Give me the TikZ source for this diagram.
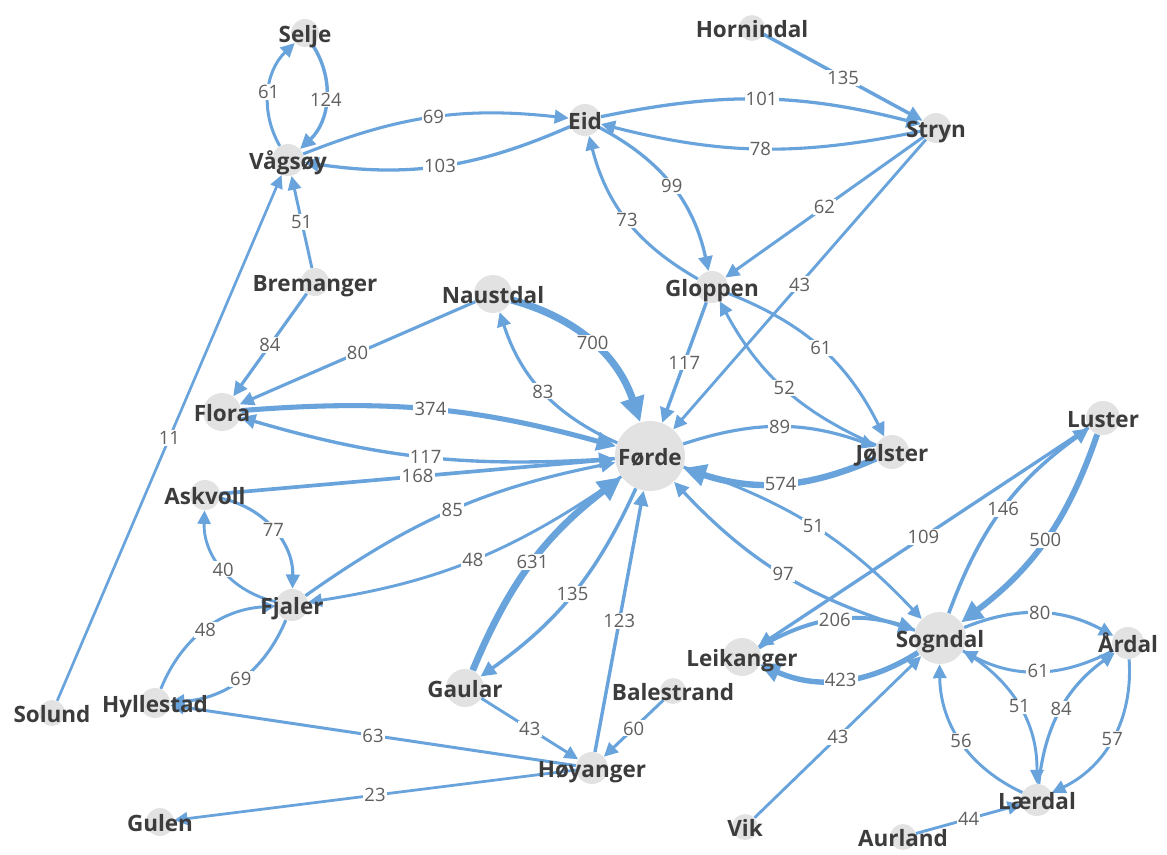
\documentclass[tikz,border=0pt]{standalone}
\usepackage{fontspec}
\usetikzlibrary{arrows.meta}
\newfontfamily\townfont{Open Sans}

\begin{document}
\begin{tikzpicture}[x=0.02cm, y=-0.02cm,
  town/.style={circle, fill=towngray, inner sep=0pt, minimum size={#1*0.04cm}},
  townname/.style={font=\townfont\bfseries\fontsize{12.8}{15}\selectfont, text=namegray,
    text height=0.72em, text depth=0pt, inner sep=0pt, yshift=-0.06cm},
  road/.style={draw=roadblue, line width={(2.6+#1/150)*0.567pt},
    -{Triangle[length=3.5pt 2.6, width=3.5pt 2.4]}},
  wt/.style={font=\townfont\fontsize{10.5}{12}\selectfont, text=wtgray, fill=white, inner sep=0.7pt}]

  % Define colors
  \definecolor{roadblue}{RGB}{104,163,220}
  \definecolor{towngray}{RGB}{226,226,226}
  \definecolor{namegray}{RGB}{60,60,60}
  \definecolor{wtgray}{RGB}{95,95,95}

  \useasboundingbox (0,0) rectangle (1167,855);

  % Draw the municipalities
  \node[town=14] (selje) at (305,33) {};
  \node[town=16] (vagsoy) at (288,160) {};
  \node[town=14] (bremanger) at (315,282) {};
  \node[town=13] (hornindal) at (752,28) {};
  \node[town=16] (eid) at (585,120) {};
  \node[town=15] (stryn) at (936,128) {};
  \node[town=16] (gloppen) at (712,287) {};
  \node[town=19] (naustdal) at (493,294) {};
  \node[town=19] (flora) at (222,412) {};
  \node[town=35] (forde) at (650,456) {};
  \node[town=17] (jolster) at (892,452) {};
  \node[town=17] (luster) at (1103,418) {};
  \node[town=15] (askvoll) at (205,495) {};
  \node[town=16] (fjaler) at (292,605) {};
  \node[town=15] (hyllestad) at (155,703) {};
  \node[town=13] (solund) at (52,713) {};
  \node[town=14] (gulen) at (160,822) {};
  \node[town=19] (gaular) at (465,688) {};
  \node[town=13] (balestrand) at (673,691) {};
  \node[town=16] (hoyanger) at (592,768) {};
  \node[town=19] (leikanger) at (742,657) {};
  \node[town=13] (vik) at (745,827) {};
  \node[town=26] (sogndal) at (940,638) {};
  \node[town=16] (ardal) at (1128,643) {};
  \node[town=16] (laerdal) at (1037,800) {};
  \node[town=13] (aurland) at (903,837) {};

  % Nordfjord
  \draw[road=61] (vagsoy) to[bend left=38] node[wt]{61} (selje);
  \draw[road=124] (selje) to[bend left=40] node[wt]{124} (vagsoy);
  \draw[road=51] (bremanger) -- node[wt]{51} (vagsoy);
  \draw[road=11] (solund) -- node[wt]{11} (vagsoy);
  \draw[road=69] (vagsoy) to[bend left=14] node[wt]{69} (eid);
  \draw[road=103] (eid) to[bend left=16] node[wt]{103} (vagsoy);
  \draw[road=101] (eid) to[bend left=13] node[wt]{101} (stryn);
  \draw[road=78] (stryn) to[bend left=13] node[wt]{78} (eid);
  \draw[road=135] (hornindal) -- node[wt]{135} (stryn);
  \draw[road=99] (eid) to[bend left=25] node[wt]{99} (gloppen);
  \draw[road=73] (gloppen) to[bend left=23] node[wt]{73} (eid);
  \draw[road=62] (stryn) -- node[wt]{62} (gloppen);
  \draw[road=43] (stryn) -- node[wt]{43} (forde);

  % Sunnfjord
  \draw[road=84] (bremanger) -- node[wt]{84} (flora);
  \draw[road=80] (naustdal) -- node[wt]{80} (flora);
  \draw[road=374] (flora) to[bend left=10] node[wt]{374} (forde);
  \draw[road=117] (forde) to[bend left=10] node[wt]{117} (flora);
  \draw[road=168] (askvoll) -- node[wt]{168} (forde);
  \draw[road=700] (naustdal) to[bend left=28] node[wt]{700} (forde);
  \draw[road=83] (forde) to[bend left=24] node[wt]{83} (naustdal);
  \draw[road=117] (gloppen) -- node[wt]{117} (forde);
  \draw[road=61] (gloppen) to[bend left=21] node[wt]{61} (jolster);
  \draw[road=52] (jolster) to[bend left=19] node[wt]{52} (gloppen);
  \draw[road=89] (forde) to[bend left=19] node[wt]{89} (jolster);
  \draw[road=574] (jolster) to[bend left=21] node[wt]{574} (forde);
  \draw[road=77] (askvoll) to[bend left=40] node[wt]{77} (fjaler);
  \draw[road=40] (fjaler) to[bend left=40] node[wt]{40} (askvoll);
  \draw[road=85] (fjaler) to[bend left=12] node[wt]{85} (forde);
  \draw[road=48] (forde) to[bend left=13] node[wt]{48} (fjaler);
  \draw[road=48] (hyllestad) to[bend left=32] node[wt]{48} (fjaler);
  \draw[road=69] (fjaler) to[bend left=32] node[wt]{69} (hyllestad);
  \draw[road=63] (hoyanger) -- node[wt]{63} (hyllestad);
  \draw[road=23] (hoyanger) -- node[wt]{23} (gulen);
  \draw[road=631] (gaular) to[bend left=15] node[wt]{631} (forde);
  \draw[road=135] (forde) to[bend left=15] node[wt]{135} (gaular);
  \draw[road=123] (hoyanger) -- node[wt]{123} (forde);
  \draw[road=43] (gaular) -- node[wt]{43} (hoyanger);
  \draw[road=60] (balestrand) -- node[wt]{60} (hoyanger);

  % Sogn
  \draw[road=51] (forde) to[bend left=14] node[wt]{51} (sogndal);
  \draw[road=97] (sogndal) to[bend left=15] node[wt]{97} (forde);
  \draw[road=109] (luster) -- node[wt]{109} (leikanger);
  \draw[road=146] (sogndal) to[bend left=17] node[wt]{146} (luster);
  \draw[road=500] (luster) to[bend left=17] node[wt]{500} (sogndal);
  \draw[road=206] (leikanger) to[bend left=24] node[wt]{206} (sogndal);
  \draw[road=423] (sogndal) to[bend left=28] node[wt]{423} (leikanger);
  \draw[road=43] (vik) -- node[wt]{43} (sogndal);
  \draw[road=80] (sogndal) to[bend left=25] node[wt]{80} (ardal);
  \draw[road=61] (ardal) to[bend left=28] node[wt]{61} (sogndal);
  \draw[road=51] (sogndal) to[bend left=30] node[wt]{51} (laerdal);
  \draw[road=56] (laerdal) to[bend left=32] node[wt]{56} (sogndal);
  \draw[road=84] (laerdal) to[bend left=24] node[wt]{84} (ardal);
  \draw[road=57] (ardal) to[bend left=34] node[wt]{57} (laerdal);
  \draw[road=44] (aurland) -- node[wt]{44} (laerdal);

  % Add names on top
  \node[townname] (selje-n) at (selje) {Selje};
  \node[townname] (vagsoy-n) at (vagsoy) {Vågsøy};
  \node[townname] (bremanger-n) at (bremanger) {Bremanger};
  \node[townname] (hornindal-n) at (hornindal) {Hornindal};
  \node[townname] (eid-n) at (eid) {Eid};
  \node[townname] (stryn-n) at (stryn) {Stryn};
  \node[townname] (gloppen-n) at (gloppen) {Gloppen};
  \node[townname] (naustdal-n) at (naustdal) {Naustdal};
  \node[townname] (flora-n) at (flora) {Flora};
  \node[townname] (forde-n) at (forde) {Førde};
  \node[townname] (jolster-n) at (jolster) {Jølster};
  \node[townname] (luster-n) at (luster) {Luster};
  \node[townname] (askvoll-n) at (askvoll) {Askvoll};
  \node[townname] (fjaler-n) at (fjaler) {Fjaler};
  \node[townname] (hyllestad-n) at (hyllestad) {Hyllestad};
  \node[townname] (solund-n) at (solund) {Solund};
  \node[townname] (gulen-n) at (gulen) {Gulen};
  \node[townname] (gaular-n) at (gaular) {Gaular};
  \node[townname] (balestrand-n) at (balestrand) {Balestrand};
  \node[townname] (hoyanger-n) at (hoyanger) {Høyanger};
  \node[townname] (leikanger-n) at (leikanger) {Leikanger};
  \node[townname] (vik-n) at (vik) {Vik};
  \node[townname] (sogndal-n) at (sogndal) {Sogndal};
  \node[townname] (ardal-n) at (ardal) {Årdal};
  \node[townname] (laerdal-n) at (laerdal) {Lærdal};
  \node[townname] (aurland-n) at (aurland) {Aurland};
\end{tikzpicture}
\end{document}
